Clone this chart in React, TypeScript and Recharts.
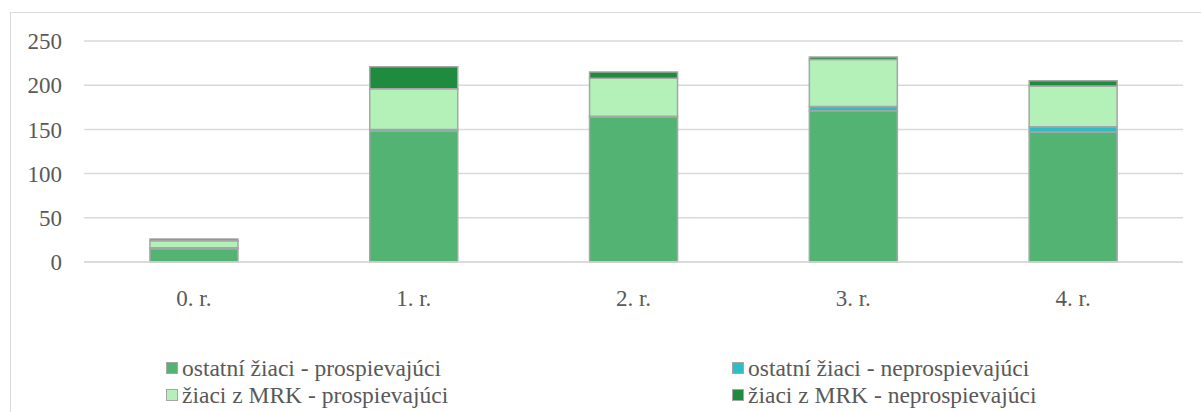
import React from "react";
import { BarChart, Bar, XAxis, YAxis, CartesianGrid } from "recharts";

const rocniky = ["0. r.", "1. r.", "2. r.", "3. r.", "4. r."];
const ostatniProsp = [15, 148, 164, 171, 147];
const ostatniNeprosp = [1, 2, 1, 5, 6];
const mrkProsp = [8, 46, 43, 53, 46];
const mrkNeprosp = [2, 25, 7, 3, 6];
const yTicks = [0, 50, 100, 150, 200, 250];

const series = [
  { key: "op", name: "ostatní žiaci - prospievajúci", color: "#52b373" },
  { key: "on", name: "ostatní žiaci - neprospievajúci", color: "#2ebdc4" },
  { key: "mp", name: "žiaci z MRK - prospievajúci", color: "#b3f1b9" },
  { key: "mn", name: "žiaci z MRK - neprospievajúci", color: "#1e8b3f" },
];

const data = rocniky.map((r, i) => ({
  rocnik: r,
  op: ostatniProsp[i],
  on: ostatniNeprosp[i],
  mp: mrkProsp[i],
  mn: mrkNeprosp[i],
}));

const font = "Liberation Serif, serif";
const tickSize = 23;

// legenda: dva stĺpce, dva riadky
const Legenda = () => {
  const cols = [
    [series[0], series[2]],
    [series[1], series[3]],
  ];
  return (
    <>
      {cols.map((col, ci) => (
        <div
          key={ci}
          style={{ position: "absolute", left: ci === 0 ? 166 : 732, top: 355 }}
        >
          {col.map((s) => (
            <div
              key={s.key}
              style={{
                display: "flex",
                alignItems: "center",
                height: 26.5,
                lineHeight: "26px",
                fontFamily: font,
                fontSize: 23.5,
                color: "#595959",
                whiteSpace: "nowrap",
              }}
            >
              <span
                style={{
                  display: "inline-block",
                  width: 10,
                  height: 10,
                  background: s.color,
                  border: "1.5px solid #a6a6a6",
                  marginRight: 4,
                }}
              />
              {s.name}
            </div>
          ))}
        </div>
      ))}
    </>
  );
};

export default function App() {
  return (
    <div
      style={{
        position: "absolute",
        left: 0,
        top: 0,
        width: 1201,
        height: 412,
        background: "#fff",
        overflow: "hidden",
      }}
    >
      <div
        style={{
          position: "absolute",
          left: 10,
          top: 12,
          width: 1300,
          height: 500,
          border: "1px solid #d9d9d9",
        }}
      />
      <div style={{ position: "absolute", left: 0, top: 0 }}>
        <BarChart
          width={1201}
          height={412}
          data={data}
          margin={{ top: 41, right: 18, bottom: 0, left: 0 }}
          barCategoryGap="30%"
        >
          <CartesianGrid vertical={false} stroke="#d9d9d9" strokeWidth={1.5} />
          <XAxis
            dataKey="rocnik"
            height={150}
            axisLine={{ stroke: "#d9d9d9", strokeWidth: 1.5 }}
            tickLine={false}
            tickSize={0}
            tickMargin={28}
            tick={{ fill: "#595959", fontSize: tickSize, fontFamily: font }}
          />
          <YAxis
            width={84}
            domain={[0, 250]}
            ticks={yTicks}
            axisLine={false}
            tickLine={false}
            tickSize={0}
            tickMargin={22}
            tick={{ fill: "#595959", fontSize: tickSize, fontFamily: font }}
          />
          {series.map((s) => (
            <Bar
              key={s.key}
              dataKey={s.key}
              name={s.name}
              stackId="a"
              fill={s.color}
              stroke="#a6a6a6"
              strokeWidth={1.5}
              isAnimationActive={false}
            />
          ))}
        </BarChart>
      </div>
      <Legenda />
    </div>
  );
}
